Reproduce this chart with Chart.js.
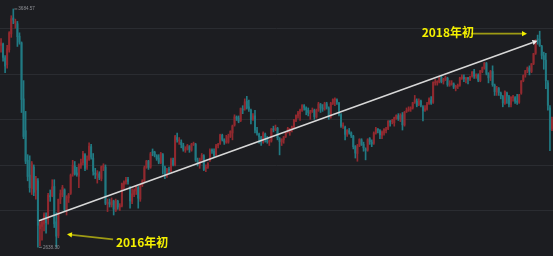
<!DOCTYPE html>
<html><head><meta charset="utf-8">
<script src="https://cdn.jsdelivr.net/npm/chart.js@4.4.0/dist/chart.umd.min.js"></script>
<style>html,body{margin:0;padding:0;background:#1c1d21;overflow:hidden}canvas{display:block}</style>
</head><body>
<canvas id="c" width="553" height="256"></canvas>
<script>
// Two-trading-day candles, Dec 2015 – Feb 2018 (index level)
const opens=[3525,3530,3470,3440,3505,3575,3645,3625,3620,3565,
3536,3290,3150,3020,2955,2895,2990,2890,2930,2720,
2730,2740,2775,2760,2865,2865,2905,2750,
2690,2850,2870,2890,2800,2855,2875,2960,2995,2965,2950,2995,
3010,3045,2990,3025,3080,3030,2965,2955,2960,2940,
2990,2990,2830,2835,2825,2840,2800,2840,2815,2820,
2915,2925,2935,2900,2840,2870,2885,2900,2850,2912,
2930,2990,3015,2990,3055,3055,3040,3030,3010,3045,
2990,2955,2980,2975,3020,3000,3120,3105,3100,3085,3065,3070,
3080,3065,3090,3090,3020,3000,3025,3040,2985,2990,
3020,3062,3060,3045,3085,3095,3130,3110,
3100,3100,3125,3140,3175,3210,3205,3195,3245,3245,3280,
3255,3240,3200,3215,3150,3135,3120,3100,3135,3120,3100,
3105,3155,3155,3160,3115,3100,3110,3125,3145,
3150,3155,3165,3195,3215,3225,3240,3260,3250,
3240,3225,3235,3240,3210,3240,3265,3250,3245,3268,3250,3210,
3270,3285,3285,3270,3220,3170,3165,3135,
3150,3140,3125,3080,3050,3085,3110,3090,3070,3065,
3115,3100,3095,3140,3155,3150,3130,3140,3150,3160,3190,3190,
3185,3205,3215,3200,3220,3175,3235,3240,3245,3250,
3275,3280,3265,3280,3255,3240,3245,3270,3285,3275,3360,
3360,3365,3385,3365,3375,3380,3350,3355,3355,3340,3345,
3350,3380,3385,3375,3380,3375,3390,3410,
3390,3395,3370,3410,3425,3445,3400,3385,3410,3350,3320,3335,
3315,3300,3270,3315,3300,3265,3295,3295,3280,3275,
3315,3370,3395,3415,3425,3410,3445,3490,3550,3550,3520,
3480,3460,3360,3250,3160];
const highs=[3555,3535,3480,3525,3585,3655,3684.57,3640,3630,3580,
3540,3370,3235,3045,3040,3015,3000,2950,2940,2750,
2760,2790,2790,2875,2890,2935,2935,2790,
2850,2890,2910,2895,2865,2875,2960,3020,3015,2990,3005,3025,
3060,3050,3040,3097,3090,3050,2985,2975,2970,2995,
3005,3000,2850,2850,2855,2845,2850,2845,2830,2920,
2930,2945,2945,2905,2895,2895,2910,2905,2915,2935,
2995,3020,3020,3055,3070,3060,3045,3045,3055,3050,
2995,2985,2990,3030,3030,3130,3140,3120,3110,3095,3080,3090,
3085,3095,3100,3095,3030,3030,3050,3045,3000,3010,
3070,3070,3070,3090,3095,3135,3135,3115,
3130,3135,3150,3175,3220,3215,3215,3250,3260,3290,3301,
3285,3245,3225,3240,3165,3140,3125,3145,3140,3125,3110,
3160,3170,3175,3165,3120,3115,3125,3145,3165,
3160,3170,3200,3220,3235,3245,3265,3265,3255,
3250,3240,3250,3245,3245,3275,3270,3265,3275,3275,3255,3275,
3290,3295,3290,3275,3225,3185,3170,3155,
3160,3145,3130,3085,3090,3115,3115,3100,3075,3115,
3120,3110,3145,3165,3160,3155,3150,3160,3165,3195,3195,3200,
3210,3220,3225,3225,3230,3235,3250,3255,3255,3275,
3305,3290,3290,3285,3260,3260,3275,3295,3300,3365,3375,
3370,3390,3390,3380,3390,3385,3370,3370,3360,3350,3355,
3385,3395,3395,3385,3385,3390,3410,3420,
3400,3400,3415,3430,3450,3450,3405,3415,3435,3355,3345,3340,
3320,3305,3325,3320,3305,3300,3305,3300,3310,3310,
3370,3395,3415,3430,3435,3445,3490,3550,3570,3587,3525,
3495,3490,3370,3260,3210];
const lows=[3495,3455,3405,3425,3495,3560,3620,3600,3520,3530,
3230,3115,3005,2930,2880,2870,2865,2850,2638.3,2645,
2670,2710,2700,2740,2840,2860,2725,2639,
2680,2830,2860,2795,2780,2835,2870,2950,2955,2950,2900,2985,
3000,2975,2980,3020,3025,2955,2940,2920,2935,2930,
2975,2825,2795,2815,2815,2780,2795,2805,2800,2815,
2895,2915,2915,2810,2830,2860,2870,2810,2840,2905,
2925,2985,2980,2985,3040,3035,3020,3005,3005,2960,
2940,2945,2965,2970,2995,2995,3100,3090,3075,3060,3055,3065,
3055,3060,3085,3015,2995,2985,3020,2975,2970,2985,
3015,3050,3035,3040,3075,3090,3105,3090,
3095,3095,3120,3110,3170,3195,3185,3190,3225,3240,3245,
3235,3180,3195,3140,3130,3095,3085,3095,3100,3095,3085,
3100,3145,3150,3110,3044,3085,3095,3120,3140,
3130,3145,3160,3190,3205,3195,3235,3240,3220,
3215,3200,3230,3200,3205,3235,3230,3235,3240,3245,3200,3205,
3265,3260,3265,3215,3165,3160,3110,3125,
3135,3120,3070,3030,3016,3080,3085,3060,3022,3060,
3090,3080,3090,3135,3140,3115,3115,3130,3140,3155,3170,3180,
3170,3200,3195,3190,3153,3170,3230,3235,3235,3245,
3270,3255,3260,3255,3193,3235,3240,3265,3265,3270,3350,
3350,3360,3360,3355,3370,3345,3345,3350,3335,3325,3335,
3345,3375,3365,3360,3355,3370,3385,3380,
3380,3365,3365,3405,3420,3395,3360,3370,3345,3305,3305,3305,
3290,3255,3265,3270,3255,3255,3280,3270,3265,3270,
3310,3365,3385,3405,3395,3405,3440,3485,3530,3520,3465,
3420,3335,3240,3062,3150];
const closes=[3536,3472,3434,3510,3580,3642,3636,3627,3563,3539,
3287,3125,3016,2949,2900,3008,2880,2938,2735,2737,
2749,2781,2746,2867,2860,2903,2741,2687,
2849,2874,2901,2804,2859,2870,2955,2999,2960,2957,3000,3009,
3050,2985,3023,3082,3034,2972,2959,2964,2945,2992,
2997,2832,2837,2827,2843,2806,2843,2815,2821,2917,
2925,2934,2927,2842,2873,2888,2905,2854,2912,2930,
2988,3017,2989,3049,3054,3043,3027,3012,3050,2995,
2953,2978,2977,3025,3002,3125,3110,3108,3089,3069,3070,3085,
3067,3090,3095,3022,3002,3023,3042,2980,2987,3004,
3065,3061,3041,3084,3090,3132,3112,3100,
3102,3125,3147,3171,3211,3205,3192,3248,3241,3277,3250,
3244,3199,3215,3152,3140,3123,3102,3139,3122,3102,3104,
3158,3154,3161,3119,3103,3113,3123,3142,3159,
3157,3167,3196,3217,3229,3240,3261,3253,3242,
3230,3233,3240,3212,3239,3268,3251,3245,3269,3252,3210,3270,
3287,3289,3276,3222,3171,3173,3134,3152,
3143,3128,3080,3052,3083,3112,3090,3075,3064,3110,
3102,3092,3140,3158,3153,3132,3144,3156,3158,3191,3188,3195,
3207,3218,3203,3218,3176,3231,3238,3244,3249,3273,
3285,3262,3281,3262,3237,3246,3268,3290,3271,3362,3363,
3367,3384,3366,3376,3384,3353,3356,3357,3342,3345,3348,
3382,3386,3378,3381,3378,3388,3408,3390,
3396,3372,3413,3427,3447,3402,3382,3411,3352,3322,3338,3318,
3303,3272,3322,3303,3266,3297,3300,3280,3275,3307,
3369,3392,3414,3426,3411,3444,3488,3547,3549,3524,3481,
3462,3370,3262,3154,3199];

const gridValues=[2600,2800,3000,3200,3400,3600];
const yMin=2600, yMax=3724;
// annotation anchors in data units (candle index, index level)
const extremeLabels=[{i:6,p:3684.57,text:'3684.57'},{i:18,p:2638.30,text:'2638.30'}];
const trendLine={from:{i:18.5,p:2755},to:{i:261.9,p:3545}};
const notes=[
  {text:'2016年初',at:{i:56.1,p:2661},tail:{i:54.7,p:2673},tip:{i:32.2,p:2695}},
  {text:'2018年初',at:{i:205.4,p:3581},tail:{i:229.5,p:3576},tip:{i:256.8,p:3576}}
];

const UP='#92292f', DOWN='#217a83';
const colorFor=i=>closes[i]>=opens[i]?UP:DOWN;

const bgPlugin={id:'bg',beforeDraw(c){const x=c.ctx;x.save();x.fillStyle='#1c1d21';x.fillRect(0,0,c.width,c.height);x.restore();}};
const gridPlugin={id:'grid',beforeDatasetsDraw(c){
  const y=c.scales.y,a=c.chartArea,x=c.ctx;x.save();x.strokeStyle='#2a2c31';x.lineWidth=1;
  gridValues.forEach(v=>{const py=Math.round(y.getPixelForValue(v))+0.5;x.beginPath();x.moveTo(a.left,py);x.lineTo(a.right,py);x.stroke();});
  x.restore();}};
function arrow(ctx,x1,y1,x2,y2,shaft,head,lw,hl,hw){
  const ang=Math.atan2(y2-y1,x2-x1);
  const bx=x2-hl*Math.cos(ang),by=y2-hl*Math.sin(ang);
  ctx.strokeStyle=shaft;ctx.lineWidth=lw;ctx.beginPath();ctx.moveTo(x1,y1);ctx.lineTo(bx,by);ctx.stroke();
  ctx.fillStyle=head;ctx.beginPath();ctx.moveTo(x2,y2);
  ctx.lineTo(bx+hw*Math.sin(ang),by-hw*Math.cos(ang));
  ctx.lineTo(bx-hw*Math.sin(ang),by+hw*Math.cos(ang));ctx.closePath();ctx.fill();
}
const notePlugin={id:'notes',afterDatasetsDraw(c){
  const X=c.scales.x,Y=c.scales.y,ctx=c.ctx;const px=pt=>[X.getPixelForValue(pt.i),Y.getPixelForValue(pt.p)];
  ctx.save();
  const [a1,b1]=px(trendLine.from),[a2,b2]=px(trendLine.to);
  arrow(ctx,a1,b1,a2,b2,'#d8d8d8','#eeeeee',1.5,5,2.6);
  notes.forEach(n=>{
    const [tx,ty]=px(n.tail),[hx,hy]=px(n.tip);
    arrow(ctx,tx,ty,hx,hy,'#9e9b14','#f2ee00',1.8,5,2.6);
    const [lx,ly]=px(n.at);
    ctx.fillStyle='#f4f000';ctx.font='bold 12px "Noto Sans CJK SC", "Noto Sans", sans-serif';
    ctx.textAlign='left';ctx.textBaseline='middle';ctx.fillText(n.text,lx,ly);
  });
  extremeLabels.forEach(l=>{
    const [cx,cy]=px(l);
    ctx.strokeStyle='#8d8f94';ctx.lineWidth=0.8;ctx.beginPath();ctx.moveTo(cx+1,cy);ctx.lineTo(cx+4,cy);ctx.stroke();
    ctx.fillStyle='#8d8f94';ctx.font='4.6px "Liberation Sans", Arial, sans-serif';
    ctx.textAlign='left';ctx.textBaseline='middle';ctx.fillText(l.text,cx+5,cy);
  });
  ctx.restore();}};

new Chart(document.getElementById('c'),{
  type:'bar',
  data:{datasets:[
    {label:'wick',data:highs.map((h,i)=>({x:i,y:[lows[i],h]})),backgroundColor:c=>colorFor(c.dataIndex),barThickness:1,grouped:false,borderWidth:0},
    {label:'body',data:opens.map((o,i)=>({x:i,y:[o,closes[i]]})),backgroundColor:c=>colorFor(c.dataIndex),barThickness:1.3,grouped:false,borderWidth:0,minBarLength:1}
  ]},
  options:{responsive:false,animation:false,devicePixelRatio:1,events:[],layout:{padding:0},
    plugins:{legend:{display:false},tooltip:{enabled:false}},
    scales:{x:{type:'linear',min:-0.5,max:269.5,display:false,offset:false},
            y:{min:yMin,max:yMax,display:false}}},
  plugins:[bgPlugin,gridPlugin,notePlugin]
});
</script>
</body></html>
